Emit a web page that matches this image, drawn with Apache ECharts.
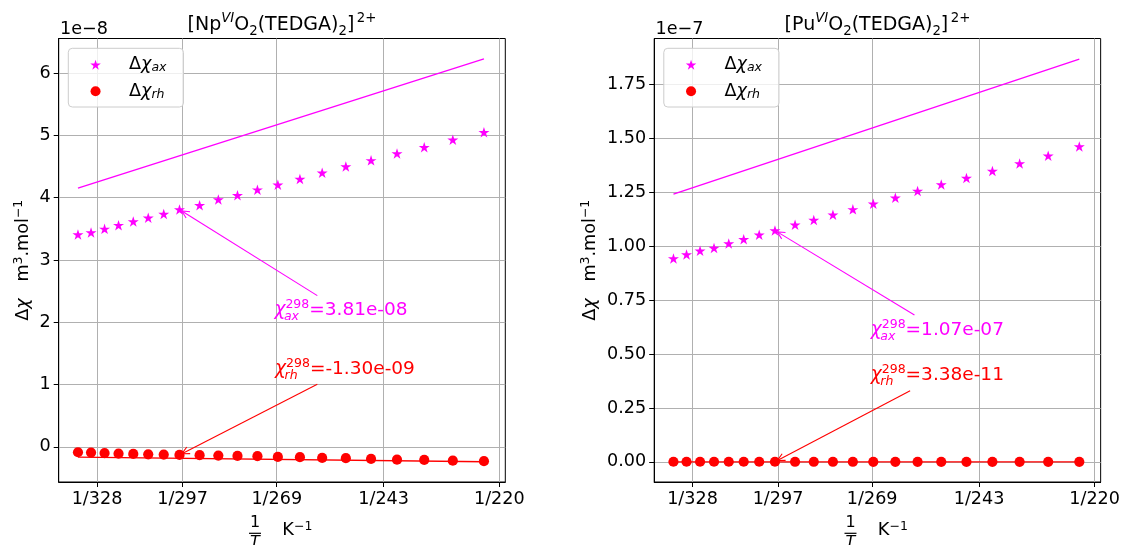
<!DOCTYPE html>
<html><head><meta charset="utf-8">
<script src="https://cdn.jsdelivr.net/npm/echarts@6/dist/echarts.min.js"></script>
<style>html,body{margin:0;padding:0;background:#fff}#c{width:1123px;height:545px}</style>
</head><body><div id="c"></div>
<script>
// ---------------- DATA ----------------
const temperatures = [335.8, 330.4, 325.0, 319.6, 314.1, 308.7, 303.3, 298.0, 291.5, 285.7, 280.0,
                      274.3, 268.7, 262.9, 257.3, 251.6, 245.8, 240.1, 234.4, 228.7, 222.8];
const xTickTemps = [328, 297, 269, 243, 220];
// Np panel, units of 1e-8 m3/mol
const npAx = [3.41, 3.44, 3.50, 3.56, 3.62, 3.68, 3.74, 3.81, 3.88, 3.97, 4.04,
              4.13, 4.21, 4.30, 4.40, 4.50, 4.60, 4.71, 4.81, 4.93, 5.05];
const npRh = [-0.087, -0.093, -0.100, -0.110, -0.114, -0.120, -0.125, -0.130, -0.135, -0.141, -0.146,
              -0.151, -0.162, -0.167, -0.178, -0.183, -0.194, -0.206, -0.210, -0.222, -0.231];
const npAxFit = [4.154, 6.231];   // straight line, first and last temperature
const npRhFit = [-0.167, -0.240];
const npYTicks = [0, 1, 2, 3, 4, 5, 6];
// Pu panel, units of 1e-7 m3/mol
const puAx = [0.943, 0.962, 0.979, 0.992, 1.013, 1.032, 1.053, 1.073, 1.100, 1.122, 1.146,
              1.171, 1.197, 1.225, 1.256, 1.286, 1.317, 1.349, 1.384, 1.420, 1.463];
const puRh = [0.00040, 0.00039, 0.00039, 0.00038, 0.00037, 0.00036, 0.00035, 0.000338, 0.00033, 0.00032, 0.00031,
              0.00031, 0.00030, 0.00030, 0.00029, 0.00029, 0.00028, 0.00028, 0.00027, 0.00027, 0.00026];
const puAxFit = [1.242, 1.868];
const puRhFit = [0.0002, 0.0001];
const puYTicks = [0, 0.25, 0.5, 0.75, 1.0, 1.25, 1.5, 1.75];
const titles = ['Np', 'Pu'];
const scaleExp = [-8, -7];
const refTemperature = 298.0;

// ---------------- LAYOUT / STYLE ----------------
const FONT = "'DejaVu Sans', sans-serif";
const FS = 17.6;
const MAGENTA = '#ff00ff', RED = '#ff0000';
const GRIDS = [{left: 58.7, top: 38.5, width: 446.6, height: 443.5},
               {left: 654.2, top: 38.5, width: 446.6, height: 443.5}];
const XMIN = 0.0029063, XMAX = 0.0045678;
const YRANGE = [[-0.565, 6.557], [-0.0935, 1.9635]];
const STAR = 'path://M0,-100 L22.45,-30.9 L95.1,-30.9 L36.33,11.8 L58.8,80.9 L0,38.2 L-58.8,80.9 L-36.33,11.8 L-95.1,-30.9 L-22.45,-30.9 Z';

const xTicks = xTickTemps.map(t => 1 / t);
const panels = [
  {ax: npAx, rh: npRh, axFit: npAxFit, rhFit: npRhFit, yTicks: npYTicks, yFmt: v => String(v)},
  {ax: puAx, rh: puRh, axFit: puAxFit, rhFit: puRhFit, yTicks: puYTicks, yFmt: v => v.toFixed(2)}
];

const grid = [], xAxis = [], yAxis = [], series = [], legend = [];
panels.forEach((p, i) => {
  grid.push(Object.assign({show: true, borderColor: '#000', borderWidth: 1, backgroundColor: 'transparent'}, GRIDS[i]));
  xAxis.push({
    gridIndex: i, type: 'value', min: XMIN, max: XMAX,
    axisLine: {onZero: false, lineStyle: {color: '#000', width: 1}},
    axisTick: {show: true, length: 5, customValues: xTicks, lineStyle: {color: '#000', width: 1}},
    axisLabel: {customValues: xTicks, formatter: v => '1/' + Math.round(1 / v), fontFamily: FONT, fontSize: FS, color: '#000', margin: 8},
    splitLine: {show: true, lineStyle: {color: '#b0b0b0', width: 1}}
  });
  yAxis.push({
    gridIndex: i, type: 'value', min: YRANGE[i][0], max: YRANGE[i][1],
    axisLine: {onZero: false, lineStyle: {color: '#000', width: 1}},
    axisTick: {show: true, length: 5, customValues: p.yTicks, lineStyle: {color: '#000', width: 1}},
    axisLabel: {customValues: p.yTicks, formatter: p.yFmt, fontFamily: FONT, fontSize: FS, color: '#000', margin: 8},
    splitLine: {show: true, lineStyle: {color: '#b0b0b0', width: 1}}
  });
  const n = temperatures.length;
  const x0 = 1 / temperatures[0], x1 = 1 / temperatures[n - 1];
  series.push({type: 'line', xAxisIndex: i, yAxisIndex: i, data: [[x0, p.axFit[0]], [x1, p.axFit[1]]],
    symbol: 'none', lineStyle: {color: MAGENTA, width: 1.3}, z: 2, silent: true});
  series.push({type: 'line', xAxisIndex: i, yAxisIndex: i, data: [[x0, p.rhFit[0]], [x1, p.rhFit[1]]],
    symbol: 'none', lineStyle: {color: RED, width: 1.3}, z: 2, silent: true});
  series.push({name: 'ax' + i, type: 'scatter', xAxisIndex: i, yAxisIndex: i,
    data: temperatures.map((t, k) => [1 / t, p.ax[k]]), symbol: STAR, symbolSize: [11, 10.5],
    itemStyle: {color: MAGENTA, opacity: 1}, z: 3, silent: true});
  series.push({name: 'rh' + i, type: 'scatter', xAxisIndex: i, yAxisIndex: i,
    data: temperatures.map((t, k) => [1 / t, p.rh[k]]), symbol: 'circle', symbolSize: 10.2,
    itemStyle: {color: RED, opacity: 1}, z: 3, silent: true});
  legend.push({
    left: GRIDS[i].left + 9.6, top: 48.3, orient: 'vertical', selectedMode: false,
    itemWidth: 20, itemHeight: 10, itemGap: 7.6, padding: [7.4, 17, 5.7, 22],
    backgroundColor: 'rgba(255,255,255,0.8)', borderColor: '#cccccc', borderWidth: 1, borderRadius: 4,
    data: [{name: 'ax' + i, icon: STAR}, {name: 'rh' + i, icon: 'circle'}],
    formatter: name => '{g|Δ}{c|χ}{s|' + (name.startsWith('ax') ? 'ax' : 'rh') + '}',
    textStyle: {fontFamily: FONT, fontSize: FS, color: '#000', rich: {
      g: {fontFamily: FONT, fontSize: FS, color: '#000', lineHeight: 20, padding: [0, 0, 0, 18.4]},
      c: {fontFamily: FONT, fontSize: FS, color: '#000', lineHeight: 20, fontStyle: 'italic'},
      s: {fontFamily: FONT, fontSize: 12.5, color: '#000', fontStyle: 'italic', lineHeight: 11.2, verticalAlign: 'bottom'}
    }}
  });
});

const chart = echarts.init(document.getElementById('c'));
chart.setOption({animation: false, grid, xAxis, yAxis, series, legend});

// ---------------- text & annotations ----------------
const mctx = document.createElement('canvas').getContext('2d');
function tw(text, size, italic) { mctx.font = (italic ? 'italic ' : '') + size + 'px ' + FONT; return mctx.measureText(text).width; }
function txt(x, y, text, size, color, italic, align) {
  return {type: 'text', x, y, silent: true, z: 100,
    style: {text, fill: color, fontFamily: FONT, fontSize: size, fontStyle: italic ? 'italic' : 'normal',
            align: align || 'left', verticalAlign: 'middle'}};
}
function sci(v) { return v.toExponential(2).replace(/e([+-])(\d)$/, 'e$10$2'); }
function mathAnno(c, sub, value, color) {
  const F = 18.5, S = 12.5;
  const val = '=' + value;
  const wc = tw('χ', F, true), ws = tw('298', S), wb = tw(sub, S, true), we = tw(val, F);
  const W = wc + Math.max(ws, wb) + we;
  const x = c[0] - W / 2;
  return [
    txt(x, c[1], 'χ', F, color, true),
    txt(x + wc, c[1] - 5, '298', S, color, false),
    txt(x + wc - 1.5, c[1] + 6.5, sub, S, color, true),
    txt(x + wc + Math.max(ws, wb), c[1], val, F, color, false)
  ];
}
function arrow(p0, p1, color) {
  const dx = p1[0] - p0[0], dy = p1[1] - p0[1], L = Math.hypot(dx, dy), ux = dx / L, uy = dy / L;
  const tip = [p1[0] - ux * 2.7, p1[1] - uy * 2.7];
  const hl = 7.4, hw = 3.7;
  const b = [tip[0] - ux * hl, tip[1] - uy * hl];
  return [
    {type: 'line', silent: true, z: 100, shape: {x1: p0[0], y1: p0[1], x2: tip[0], y2: tip[1]}, style: {stroke: color, lineWidth: 1.1}},
    {type: 'polyline', silent: true, z: 100, shape: {points: [[b[0] - uy * hw, b[1] + ux * hw], tip, [b[0] + uy * hw, b[1] - ux * hw]]},
     style: {stroke: color, fill: null, lineWidth: 1.1}}
  ];
}
const ANNO = [
  {axText: [0.0039566, 2.198], axTail: [0.0038684, 2.428], rhText: [0.0039714, 1.250], rhTail: [0.0038684, 1.004]},
  {axText: [0.0039601, 0.612], axTail: [0.0038748, 0.681], rhText: [0.0039601, 0.403], rhTail: [0.0038588, 0.330]}
];
const refIdx = temperatures.indexOf(refTemperature);
const els = [];
panels.forEach((p, i) => {
  const G = GRIDS[i];
  const cx = G.left + G.width / 2;
  const px = v => chart.convertToPixel({gridIndex: i}, v);
  // title
  els.push({type: 'text', x: cx, y: 25, silent: true, z: 100, style: {
    text: '{a|[' + titles[i] + '}{si|VI}{a|O}{b|2}{a|(TEDGA)}{b|2}{a|]}{s|2+}',
    align: 'center', verticalAlign: 'middle', fill: '#000', rich: {
      a: {fontFamily: FONT, fontSize: 19, lineHeight: 26, fill: '#000'},
      si: {fontFamily: FONT, fontSize: 13.3, fontStyle: 'italic', lineHeight: 22.6, verticalAlign: 'top', fill: '#000'},
      s: {fontFamily: FONT, fontSize: 13.3, lineHeight: 17, verticalAlign: 'top', fill: '#000', padding: [0, 0, 0, 2.5]},
      b: {fontFamily: FONT, fontSize: 13.3, lineHeight: 15.4, verticalAlign: 'bottom', fill: '#000'}
    }}});
  // offset text
  els.push(txt(G.left + 1.3, 29.3, '1e\u2212' + Math.abs(scaleExp[i]), FS, '#000', false));
  // y axis name
  els.push({type: 'text', x: i === 0 ? 23 : 590, y: G.top + G.height / 2, rotation: Math.PI / 2, silent: true, z: 100, style: {
    text: '{m|Δ}{c|χ}{m|   m}{s|3}{m|.mol}{s|\u22121}', align: 'center', verticalAlign: 'middle', fill: '#000', rich: {
      m: {fontFamily: FONT, fontSize: FS, lineHeight: 22, fill: '#000'},
      c: {fontFamily: FONT, fontSize: FS, lineHeight: 22, fontStyle: 'italic', fill: '#000'},
      s: {fontFamily: FONT, fontSize: 12.5, lineHeight: 14, verticalAlign: 'top', fill: '#000'}
    }}});
  // x axis name: fraction 1/T and K^-1
  els.push(txt(cx - 27, 522.5, '1', 16, '#000', false, 'center'));
  els.push({type: 'line', silent: true, z: 100, shape: {x1: cx - 33, y1: 533.3, x2: cx - 21, y2: 533.3}, style: {stroke: '#000', lineWidth: 1.2}});
  els.push(txt(cx - 27, 543, 'T', 16, '#000', true, 'center'));
  els.push({type: 'text', x: cx + 0.3, y: 530.8, silent: true, z: 100, style: {
    text: '{m|K}{s|\u22121}', align: 'left', verticalAlign: 'middle', fill: '#000', rich: {
      m: {fontFamily: FONT, fontSize: 17.8, lineHeight: 22, fill: '#000'},
      s: {fontFamily: FONT, fontSize: 12.5, lineHeight: 10.4, verticalAlign: 'top', fill: '#000'}
    }}});
  // annotations
  const a = ANNO[i];
  const xr = 1 / temperatures[refIdx];
  const scale = Math.pow(10, scaleExp[i]);
  els.push(...arrow(px(a.axTail), px([xr, p.ax[refIdx]]), MAGENTA));
  els.push(...arrow(px(a.rhTail), px([xr, p.rh[refIdx]]), RED));
  els.push(...mathAnno(px(a.axText), 'ax', sci(p.ax[refIdx] * scale), MAGENTA));
  els.push(...mathAnno(px(a.rhText), 'rh', sci(p.rh[refIdx] * scale), RED));
});
chart.setOption({graphic: {elements: els}});
</script>
</body></html>
